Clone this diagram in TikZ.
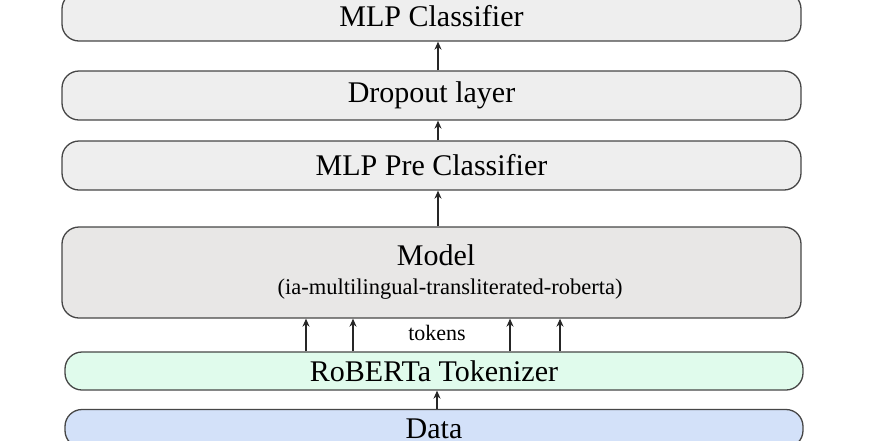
\documentclass[tikz,border=0pt]{standalone}
\usepackage{fontspec}
\setmainfont{Liberation Serif}
\usetikzlibrary{arrows.meta,positioning}
\definecolor{cGray}{RGB}{238,238,238}
\definecolor{cModel}{RGB}{232,231,230}
\definecolor{cMint}{RGB}{224,251,236}
\definecolor{cSky}{RGB}{211,225,249}
\definecolor{cLine}{RGB}{70,70,70}
\tikzset{
  basebox/.style={rectangle,rounded corners=17pt,draw=cLine,line width=1.3pt,
                  align=center,font=\fontsize{30}{34}\selectfont,
                  minimum width=739pt,inner sep=0pt},
  graybox/.style={basebox,fill=cGray,minimum height=49pt},
  modelbox/.style={basebox,fill=cModel,minimum height=91pt},
  tokbox/.style={basebox,fill=cMint,minimum width=738pt,minimum height=38pt},
  databox/.style={basebox,fill=cSky,minimum width=738pt,minimum height=38pt},
  smalltext/.style={font=\fontsize{22.5}{26}\selectfont,inner sep=0pt},
  arr/.style={-{Stealth[length=8pt,width=7pt]},line width=1.2pt,color=black!85}
}
\begin{document}
\begin{tikzpicture}[x=1pt,y=-1pt]
  \useasboundingbox (0,0) rectangle (881,440);

  \node[graybox] (mlpcls) at (431.5,16.5) {MLP Classifier};
  \node[graybox] (drop)   at (431.5,95.5) {Dropout layer};
  \node[graybox] (pre)    at (431.5,165.5) {MLP Pre Classifier};
  \node[modelbox] (model) at (431.5,272.5) {};
  \node[font=\fontsize{30}{34}\selectfont] (mtitle) at (436,255) {Model};
  \node[smalltext] (msub) at (450,289) {(ia-multilingual-transliterated-roberta)};
  \node[tokbox] (tok)     at (434,371) {RoBERTa Tokenizer};
  \node[databox] (data)   at (434,428.5) {Data};

  \node[smalltext,font=\fontsize{22}{26}\selectfont] (tokens) at (437,333) {tokens};

  \draw[arr] ([xshift=6.5pt]drop.north) -- ([xshift=6.5pt]mlpcls.south);
  \draw[arr] ([xshift=6.5pt]pre.north) -- ([xshift=6.5pt]drop.south);
  \draw[arr] ([xshift=6.5pt]model.north) -- ([xshift=6.5pt]pre.south);
  \foreach \dx in {-128,-81,76,126}
    \draw[arr] ([xshift=\dx pt]tok.north) -- ([xshift=\dx pt]tok.north |- model.south);
  \draw[arr] ([xshift=3pt]data.north) -- ([xshift=3pt]tok.south);

\end{tikzpicture}
\end{document}
